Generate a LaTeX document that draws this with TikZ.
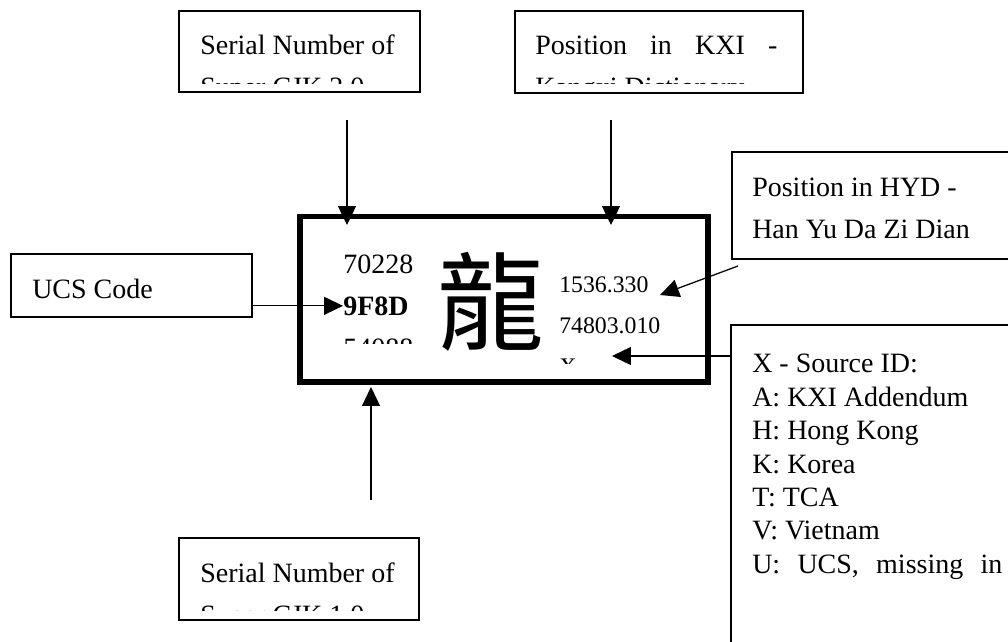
\documentclass[tikz,border=0pt]{standalone}
\usepackage{fontspec}
\setmainfont{Liberation Serif}
\newfontfamily\cjk{Noto Sans CJK TC}
\usepackage{tikz}
\usetikzlibrary{arrows.meta}

\begin{document}
\begin{tikzpicture}[
    x=0.025cm,
    y=-0.025cm,
    panel/.style 2 args={
        draw,
        line width=1.05pt,
        inner sep=0pt,
        outer sep=0pt,
        anchor=north west,
        minimum width=#1*0.025cm,
        minimum height=#2*0.025cm
    },
    boxtext/.style={
        anchor=base west,
        inner sep=0pt,
        align=left,
        font=\fontsize{19.9}{29.2}\selectfont
    },
    numtext/.style={
        anchor=base west,
        inner sep=0pt,
        font=\fontsize{16.9}{29.2}\selectfont
    },
    pointer/.style={
        line width=0.9pt,
        -{Triangle[length=13.5pt,width=12.8pt]}
    }
]

\path[use as bounding box, clip] (0,0) rectangle (1008,641);


% the character frame
\node[panel={408}{165.5}, line width=3.9pt] (glyphbox) at (300,216.5) {};

\begin{scope}
    \clip (320,225) rectangle (440,343);
    \node[boxtext] (superA) at (343,273) {70228};
    \node[boxtext, font=\fontsize{19.9}{29.2}\selectfont\bfseries] (ucscode) at (343,315) {9F8D};
    \node[boxtext] (superB) at (343,357) {54088};
\end{scope}

\node[inner sep=0pt, font=\cjk\fontsize{76}{76}\selectfont] (glyph) at (491,302) {龍};

\begin{scope}
    \clip (550,225) rectangle (700,363);
    \node[numtext] (hydpos) at (559,292) {1536.330};
    \node[numtext] (kxipos) at (559,333) {74803.010};
    \node[numtext] (srcid) at (559,374) {X};
\end{scope}


% Super CJK 2.0 (base = last line)
\node[panel={241}{81}] (superAbox) at (179,11) {};
\begin{scope}
    \clip (179,11) rectangle (420,83);
    \node[boxtext] (superAtext) at (200,96) {Serial Number of\\Super CJK 2.0};
\end{scope}

% Kangxi
\node[panel={288}{82}] (kxibox) at (515,11) {};
\begin{scope}
    \clip (515,11) rectangle (803,83);
    \node[boxtext] (kxitext) at (535,96)
        {\makebox[6.05cm][s]{Position in KXI -}\\Kangxi Dictionary};
\end{scope}

% UCS
\node[panel={241}{63}] (ucsbox) at (11,254) {};
\node[boxtext] (ucstext) at (32,298) {UCS Code};

% HYD
\node[panel={300}{107}] (hydbox) at (732,152) {};
\node[boxtext] (hydtext) at (752,238) {Position in HYD -\\Han Yu Da Zi Dian};

% source ID
\node[panel={300}{340}] (srcbox) at (731,325) {};
\node[boxtext, font=\fontsize{19.9}{23.8}\selectfont] (srctext) at (752,573.4)
    {X - Source ID:\\A: KXI Addendum\\H: Hong Kong\\K: Korea\\T: TCA\\V: Vietnam\\
     \makebox[6.25cm][s]{U: UCS, missing in}};

% Super CJK 1.0
\node[panel={240}{82}] (superBbox) at (179,538) {};
\begin{scope}
    \clip (179,538) rectangle (419,610);
    \node[boxtext] (superBtext) at (200,624) {Serial Number of\\Super CJK 1.0};
\end{scope}


% arrows
\coordinate (superAtail) at (347,120);
\coordinate (superAtip) at (347,225);
\coordinate (kxitail) at (611,120);
\coordinate (kxitip) at (611,225);
\coordinate (hydtail) at (738,266);
\coordinate (hydtip) at (660,295);
\coordinate (srctip) at (612,356);
\coordinate (superBtail) at (371,500);
\coordinate (superBtip) at (371,387);

\draw[pointer] (superAtail) -- (superAtip);
\draw[pointer] (kxitail) -- (kxitip);
\draw[pointer] (ucsbox.east |- ucscode.west) -- (ucscode.west);
\draw[pointer] (hydtail) -- (hydtip);
\draw[pointer] (srcbox.west |- srctip) -- (srctip);
\draw[pointer] (superBtail) -- (superBtip);

\end{tikzpicture}
\end{document}
